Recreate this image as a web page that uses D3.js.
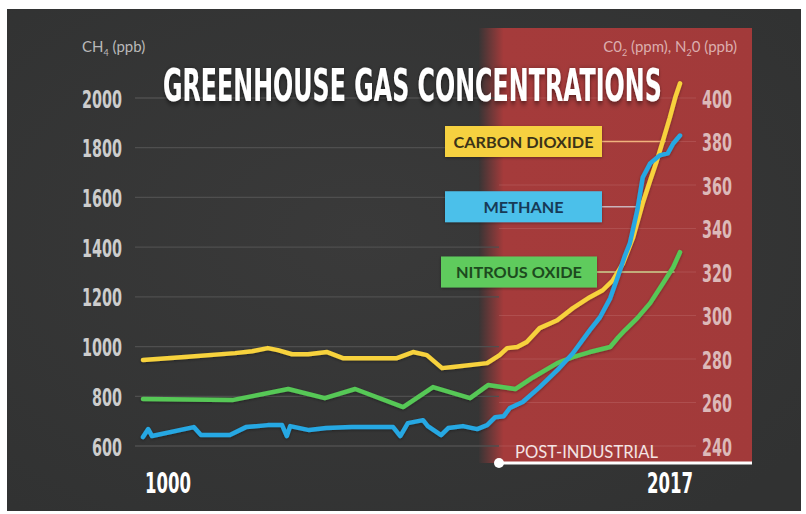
<!DOCTYPE html>
<html>
<head>
<meta charset="utf-8">
<script src="https://cdn.jsdelivr.net/npm/d3@7"></script>
<style>
  html, body { margin: 0; padding: 0; background: #ffffff; }
  svg { display: block; }
</style>
</head>
<body>
<svg id="chart" width="806" height="514"></svg>
<script>
// ---- Data -------------------------------------------------------------
// Carbon dioxide, ppm (right axis)
const co2Series = [
  [1000, 279.5], [1088, 280.9], [1194, 282.7], [1230, 283.6], [1263, 285.0],
  [1284, 284.1], [1314, 282.2], [1348, 282.2], [1388, 283.2], [1421, 280.4],
  [1535, 280.4], [1569, 283.2], [1598, 281.8], [1630, 275.8], [1653, 276.3],
  [1725, 278.1], [1751, 281.8], [1762, 285.0], [1777, 285.5], [1791, 287.8],
  [1810, 294.2], [1836, 297.8], [1859, 303.4], [1884, 308.4], [1903, 311.6],
  [1918, 316.2], [1933, 324.0], [1948, 336.0], [1962, 351.6], [1973, 362.1],
  [1983, 371.3], [1992, 380.5], [2002, 391.0], [2010, 400.2], [2017, 406.7]
];

// Methane, ppb (left axis)
const ch4Series = [
  [1000, 636], [1011, 668], [1019, 640], [1107, 676], [1122, 644],
  [1183, 644], [1217, 676], [1263, 684], [1293, 684], [1303, 640],
  [1310, 680], [1350, 664], [1386, 672], [1440, 676], [1527, 676],
  [1542, 640], [1558, 692], [1590, 704], [1600, 680], [1628, 644],
  [1643, 672], [1674, 680], [1704, 668], [1725, 684], [1742, 716],
  [1757, 720], [1766, 753], [1785, 777], [1810, 837], [1836, 905],
  [1859, 973], [1884, 1066], [1899, 1118], [1914, 1194], [1926, 1287],
  [1936, 1367], [1943, 1415], [1954, 1548], [1962, 1680], [1973, 1737],
  [1987, 1769], [1999, 1777], [2007, 1817], [2017, 1849]
];

// Nitrous oxide, ppb (right axis)
const n2oSeries = [
  [1000, 261.6], [1188, 261.1], [1306, 266.2], [1383, 262.0], [1447, 266.2],
  [1548, 257.9], [1611, 267.1], [1689, 262.0], [1727, 268.0], [1774, 266.2],
  [1800, 271.5], [1836, 278.1], [1859, 280.9], [1884, 283.2], [1914, 285.5],
  [1926, 290.0], [1936, 293.3], [1954, 298.8], [1973, 305.7], [1992, 314.8],
  [2007, 322.2], [2017, 329.1]
];

const leftTicks  = [600, 800, 1000, 1200, 1400, 1600, 1800, 2000];
const rightTicks = [240, 260, 280, 300, 320, 340, 360, 380, 400];
const yearLabels = [1000, 2017];
const industrialStart = 1750;

// Legend entries: label, level on the right axis, year where the leader meets the curve
const legendLabels  = ["CARBON DIOXIDE", "METHANE", "NITROUS OXIDE"];
const legendLevels  = [380, 350, 320];
const legendReach   = [1996, 1953, 2009];
const legendColors  = ["#f6d141", "#4cc0ea", "#5fcb5d"];
const legendInk     = ["#3b3318", "#173a57", "#1d4a1e"];
const leaderColors  = ["#f0b27e", "#c9b3bb", "#cbcf8d"];

const lineColors = { co2: "#f7d23c", ch4: "#27a8e3", n2o: "#57c857" };

// ---- Layout -----------------------------------------------------------
const svg = d3.select("#chart");
const condensed = "'Liberation Sans Narrow','DejaVu Sans Condensed','Roboto Condensed',Roboto,sans-serif";
const sans = "Lato,'Open Sans','Noto Sans',sans-serif";

const x  = d3.scaleLinear().domain([1000, industrialStart, 2017]).range([143, 499, 680]);
const yL = d3.scaleLinear().domain([600, 2000]).range([446, 98]);
const yR = d3.scaleLinear().domain([240, 400]).range([446, 98]);

// Squeeze a text horizontally so that it spans exactly `width` pixels
function fitWidth(sel, width, anchorX, baseY, anchor) {
  sel.each(function () {
    const w = this.getComputedTextLength();
    const k = width / w;
    const x0 = anchor === "end" ? anchorX - width : anchorX;
    d3.select(this).attr("x", 0).attr("y", 0).attr("text-anchor", "start")
      .attr("transform", `translate(${x0},${baseY}) scale(${k},1)`);
  });
}

const defs = svg.append("defs");

const bg = defs.append("radialGradient").attr("id", "bgGrad")
  .attr("cx", "45%").attr("cy", "45%").attr("r", "70%");
bg.append("stop").attr("offset", "0%").attr("stop-color", "#3a3a3a");
bg.append("stop").attr("offset", "100%").attr("stop-color", "#313232");

const redGrad = defs.append("linearGradient").attr("id", "redGrad")
  .attr("x1", "0").attr("x2", "1").attr("y1", "0").attr("y2", "0");
redGrad.append("stop").attr("offset", "0%").attr("stop-color", "#383535");
redGrad.append("stop").attr("offset", "9%").attr("stop-color", "#a53b3b");
redGrad.append("stop").attr("offset", "100%").attr("stop-color", "#a23a3a");

const shadow = defs.append("filter").attr("id", "shadow")
  .attr("x", "-10%").attr("y", "-30%").attr("width", "120%").attr("height", "160%");
shadow.append("feDropShadow").attr("dx", 0).attr("dy", 2).attr("stdDeviation", 3)
  .attr("flood-color", "#000").attr("flood-opacity", 0.55);

const soft = defs.append("filter").attr("id", "soft")
  .attr("x", "-10%").attr("y", "-10%").attr("width", "120%").attr("height", "120%");
soft.append("feDropShadow").attr("dx", 0).attr("dy", 1).attr("stdDeviation", 1.5)
  .attr("flood-color", "#000").attr("flood-opacity", 0.35);

// Panel
svg.append("rect").attr("x", 7).attr("y", 9).attr("width", 794).attr("height", 502)
  .attr("fill", "url(#bgGrad)");

// Post-industrial band
const bandLeft = x(industrialStart) - 20;
svg.append("rect")
  .attr("x", bandLeft).attr("y", 28)
  .attr("width", 752 - bandLeft).attr("height", 463 - 28)
  .attr("fill", "url(#redGrad)");

// Gridlines: methane scale over the pre-industrial part, CO2/N2O scale over the band
svg.append("g").selectAll("line").data(leftTicks).join("line")
  .attr("x1", 135).attr("x2", x(industrialStart))
  .attr("y1", d => yL(d)).attr("y2", d => yL(d))
  .attr("stroke", "#4f4f4f").attr("stroke-width", 1.3);

svg.append("g").selectAll("line").data(rightTicks).join("line")
  .attr("x1", x(industrialStart)).attr("x2", 696)
  .attr("y1", d => yR(d)).attr("y2", d => yR(d))
  .attr("stroke", "rgba(255,220,220,0.13)").attr("stroke-width", 1.2);

// Left axis labels
const leftAxis = svg.append("g").attr("transform", "translate(122,0)")
  .call(d3.axisLeft(yL).tickValues(leftTicks).tickSize(0).tickPadding(0).tickFormat(d3.format("d")));
leftAxis.select(".domain").remove();
leftAxis.attr("font-family", condensed).attr("font-size", 25);
leftAxis.selectAll("text")
  .attr("fill", "#cdcdcd").attr("dy", "0.36em").attr("font-weight", "bold")
  .attr("textLength", d => String(d).length * 10)
  .attr("lengthAdjust", "spacingAndGlyphs");

// Right axis labels
const rightAxis = svg.append("g").attr("transform", "translate(702,0)")
  .call(d3.axisRight(yR).tickValues(rightTicks).tickSize(0).tickPadding(0).tickFormat(d3.format("d")));
rightAxis.select(".domain").remove();
rightAxis.attr("font-family", condensed).attr("font-size", 25);
rightAxis.selectAll("text")
  .attr("fill", "#dcb9b9").attr("dy", "0.36em").attr("font-weight", "bold")
  .attr("textLength", 30).attr("lengthAdjust", "spacingAndGlyphs");

// Axis titles
const leftTitle = svg.append("text").attr("x", 82).attr("y", 52)
  .attr("font-family", sans).attr("font-size", 15).attr("fill", "#b9b9b9");
leftTitle.append("tspan").text("CH");
leftTitle.append("tspan").attr("font-size", 9).attr("dy", 4).text("4");
leftTitle.append("tspan").attr("dy", -4).text(" (ppb)");

const rightTitle = svg.append("text").attr("x", 737).attr("y", 52)
  .attr("text-anchor", "end")
  .attr("font-family", sans).attr("font-size", 15).attr("fill", "#dcaeae");
rightTitle.append("tspan").text("C0");
rightTitle.append("tspan").attr("font-size", 9).attr("dy", 4).text("2");
rightTitle.append("tspan").attr("dy", -4).text(" (ppm), N");
rightTitle.append("tspan").attr("font-size", 9).attr("dy", 4).text("2");
rightTitle.append("tspan").attr("dy", -4).text("0 (ppb)");

// Legend leaders
svg.append("g").selectAll("line").data(legendLabels).join("line")
  .attr("x1", (d, i) => i === 2 ? 597 : 602)
  .attr("x2", (d, i) => x(legendReach[i]))
  .attr("y1", (d, i) => yR(legendLevels[i]))
  .attr("y2", (d, i) => yR(legendLevels[i]))
  .attr("stroke", (d, i) => leaderColors[i])
  .attr("stroke-width", 1.5);

// Series
const lineR = d3.line().x(d => x(d[0])).y(d => yR(d[1]));
const lineL = d3.line().x(d => x(d[0])).y(d => yL(d[1]));

const series = svg.append("g").attr("fill", "none")
  .attr("stroke-width", 4.5).attr("stroke-linejoin", "round").attr("stroke-linecap", "round")
  .attr("filter", "url(#soft)");
series.append("path").datum(n2oSeries).attr("d", lineR).attr("stroke", lineColors.n2o);
series.append("path").datum(co2Series).attr("d", lineR).attr("stroke", lineColors.co2);
series.append("path").datum(ch4Series).attr("d", lineL).attr("stroke", lineColors.ch4);

// Legend boxes
const legend = svg.append("g").selectAll("g").data(legendLabels).join("g")
  .attr("transform", (d, i) => `translate(0,${yR(legendLevels[i])})`);
legend.append("rect")
  .attr("x", (d, i) => i === 2 ? 441 : 445)
  .attr("y", -15.5)
  .attr("width", (d, i) => i === 2 ? 156 : 157)
  .attr("height", 31)
  .attr("fill", (d, i) => legendColors[i])
  .attr("filter", "url(#soft)");
legend.append("text")
  .attr("x", (d, i) => i === 2 ? 519 : 523.5)
  .attr("y", 6)
  .attr("text-anchor", "middle")
  .attr("font-family", sans).attr("font-weight", "bold").attr("font-size", 16)
  .attr("fill", (d, i) => legendInk[i])
  .attr("textLength", (d, i) => [140, 80, 126][i])
  .attr("lengthAdjust", "spacingAndGlyphs")
  .text(d => d);

// Post-industrial marker
svg.append("line")
  .attr("x1", x(industrialStart)).attr("x2", 752)
  .attr("y1", 463).attr("y2", 463)
  .attr("stroke", "#ffffff").attr("stroke-width", 3);
svg.append("circle").attr("cx", x(industrialStart)).attr("cy", 463).attr("r", 5)
  .attr("fill", "#ffffff");
svg.append("text")
  .attr("x", x(industrialStart) + 16).attr("y", 458)
  .attr("font-family", sans).attr("font-size", 17).attr("fill", "#f4e4e4")
  .attr("textLength", 143).attr("lengthAdjust", "spacingAndGlyphs")
  .text("POST-INDUSTRIAL");

// Year labels
svg.append("g").selectAll("text").data(yearLabels).join("text")
  .attr("x", (d, i) => i === 0 ? x(d) + 2 : x(d) + 13)
  .attr("y", 493)
  .attr("text-anchor", (d, i) => i === 0 ? "start" : "end")
  .attr("font-family", condensed).attr("font-weight", "bold").attr("font-size", 29)
  .attr("fill", "#ffffff")
  .attr("textLength", 46).attr("lengthAdjust", "spacingAndGlyphs")
  .text(d => d);

// Title, squeezed to its slot between the axes
svg.append("text")
  .attr("font-family", condensed).attr("font-weight", "bold").attr("font-size", 45)
  .attr("fill", "#ffffff")
  .attr("filter", "url(#shadow)")
  .text("GREENHOUSE GAS CONCENTRATIONS")
  .call(fitWidth, 499, 163, 101, "start");
</script>
</body>
</html>
